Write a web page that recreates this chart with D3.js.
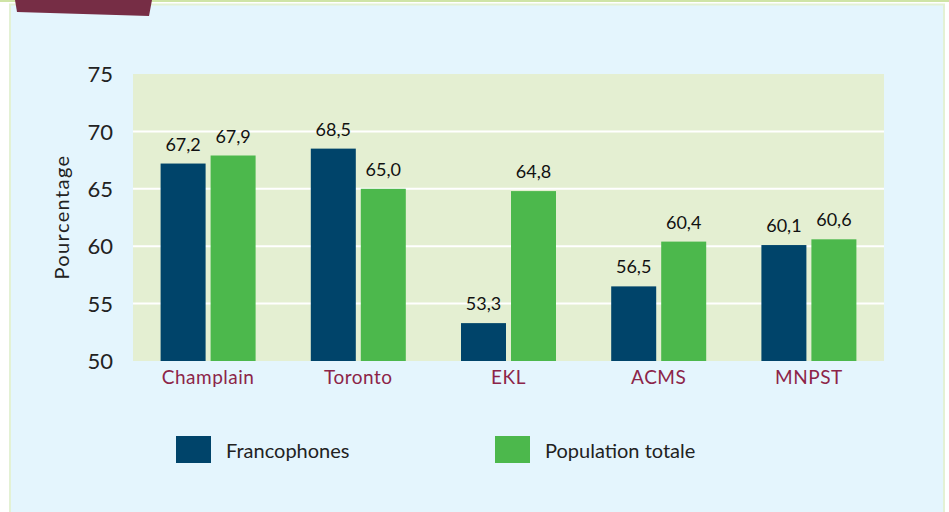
<!DOCTYPE html>
<meta charset="utf-8">
<head>
<title>Pourcentage par région</title>
<style>
  body { margin: 0; background: #fff; }
  text { font-family: Lato, "Open Sans", sans-serif; }
</style>
</head>
<body>
<svg width="949" height="512"></svg>
<script src="https://cdn.jsdelivr.net/npm/d3@7"></script>
<script>

var categories = ["Champlain", "Toronto", "EKL", "ACMS", "MNPST"];
var series = ["Francophones", "Population totale"];
var francophones = [67.2, 68.5, 53.3, 56.5, 60.1];
var populationTotale = [67.9, 65.0, 64.8, 60.4, 60.6];
var yTicks = [50, 55, 60, 65, 70, 75];
var colors = ["#00446a", "#4cb84c"];

var svg = d3.select("svg");

// background panel + decorations
svg.append("rect").attr("x", 0).attr("y", 0).attr("width", 949).attr("height", 2).attr("fill", "#cfe4a6");
svg.append("rect")
   .attr("x", 10).attr("y", 4.5).attr("width", 934).attr("height", 520)
   .attr("fill", "#e4f5fd").attr("stroke", "#e3f1d4").attr("stroke-width", 2);
svg.append("polygon")
   .attr("points", "15,0 152,0 149,16 17,12")
   .attr("fill", "#762d45");

var x0 = 133, x1 = 884, yTop = 74, yBot = 361;

var xScale = d3.scaleBand().domain(categories).range([x0, x1]);
var yScale = d3.scaleLinear().domain([50, 75]).range([yBot, yTop]);
var barW = 45, gap = 5;

var g = svg.append("g");

g.append("rect")
 .attr("x", x0).attr("y", yTop)
 .attr("width", x1 - x0).attr("height", yBot - yTop)
 .attr("fill", "#e4efd2");

g.selectAll(".grid")
 .data(yTicks.filter(function(t){ return t > 50 && t < 75; }))
 .enter().append("line")
 .attr("x1", x0).attr("x2", x1)
 .attr("y1", function(t){ return yScale(t); })
 .attr("y2", function(t){ return yScale(t); })
 .attr("stroke", "#fff").attr("stroke-width", 2);

// y axis
var yAxis = g.append("g")
 .attr("transform", "translate(" + (x0 - 20) + ",0)")
 .call(d3.axisLeft(yScale).tickValues(yTicks).tickSize(0).tickPadding(0));
yAxis.select(".domain").remove();
yAxis.selectAll("text")
 .attr("font-size", "22px").attr("fill", "#222").attr("dy", "0.35em")
 .style("font-family", "Lato, 'Open Sans', sans-serif");

svg.append("text")
 .attr("transform", "translate(69,217) rotate(-90)")
 .attr("text-anchor", "middle")
 .attr("font-size", "20px").attr("fill", "#222")
 .attr("letter-spacing", "1.4px")
 .text("Pourcentage");

// x axis labels
var xAxis = g.append("g")
 .attr("transform", "translate(0," + yBot + ")")
 .call(d3.axisBottom(xScale).tickSize(0).tickPadding(10));
xAxis.select(".domain").remove();
xAxis.selectAll("text")
 .attr("font-size", "19px").attr("fill", "#8c2448")
 .attr("letter-spacing", "0.5px")
 .style("font-family", "Lato, 'Open Sans', sans-serif");

// bars
var rows = categories.map(function(c, i){
  return [ {cat: c, s: 0, v: francophones[i]}, {cat: c, s: 1, v: populationTotale[i]} ];
});
var flat = [].concat.apply([], rows);

function barX(d) {
  var c = xScale(d.cat) + xScale.bandwidth() / 2;
  return d.s === 0 ? c - gap / 2 - barW : c + gap / 2;
}

g.selectAll(".bar")
 .data(flat)
 .enter().append("rect")
 .attr("class", "bar")
 .attr("x", barX)
 .attr("y", function(d){ return yScale(d.v); })
 .attr("width", barW)
 .attr("height", function(d){ return yBot - yScale(d.v); })
 .attr("fill", function(d){ return colors[d.s]; });

g.selectAll(".val")
 .data(flat)
 .enter().append("text")
 .attr("x", function(d){ return barX(d) + barW / 2; })
 .attr("y", function(d){ return yScale(d.v) - 13; })
 .attr("text-anchor", "middle")
 .attr("font-size", "18px").attr("fill", "#111")
 .text(function(d){ return d.v.toFixed(1).replace(".", ","); });

// legend
var legX = [176, 495];
var leg = svg.selectAll(".leg")
 .data(series)
 .enter().append("g")
 .attr("transform", function(d, i){ return "translate(" + legX[i] + ",436)"; });
leg.append("rect").attr("width", 35).attr("height", 27)
 .attr("fill", function(d, i){ return colors[i]; });
leg.append("text").attr("x", 50).attr("y", 15).attr("dy", "0.35em")
 .attr("font-size", "20px").attr("fill", "#222")
 .text(function(d){ return d; });

</script>
</body>
